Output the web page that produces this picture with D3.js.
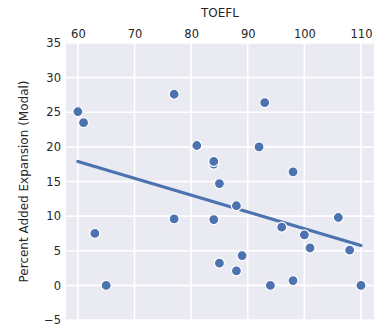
<!DOCTYPE html>
<html>
<head>
<meta charset="utf-8">
<script src="https://cdn.jsdelivr.net/npm/d3@7"></script>
<style>
  body { margin: 0; background: #fff; }
  text { font-family: "DejaVu Sans", sans-serif; fill: #262626; }
</style>
</head>
<body>
<div id="chart"></div>
<script>
// TOEFL score vs percent added expansion (modal)
const toefl = [60, 61, 63, 65, 77, 77, 81, 84, 84, 84, 85, 85, 88, 88, 89, 92, 93, 94, 96, 98, 98, 100, 101, 106, 108, 110];
const expansion = [25.1, 23.5, 7.5, 0, 27.6, 9.6, 20.2, 17.5, 17.9, 9.5, 14.7, 3.2, 11.5, 2.1, 4.3, 20.0, 26.4, 0, 8.4, 16.4, 0.7, 7.3, 5.4, 9.8, 5.1, 0];
const xTicks = [60, 70, 80, 90, 100, 110];
const yTicks = [-5, 0, 5, 10, 15, 20, 25, 30, 35];

const width = 377, height = 333;
const margin = { top: 43, right: 3, bottom: 13, left: 66 };

const svg = d3.select('#chart')
  .append('svg')
  .attr('width', width)
  .attr('height', height);

const x = d3.scaleLinear()
  .domain([57.9, 112.3])
  .range([margin.left, width - margin.right]);

const y = d3.scaleLinear()
  .domain([-5, 35])
  .range([height - margin.bottom, margin.top]);

// background
svg.append('rect')
  .attr('x', margin.left)
  .attr('y', margin.top)
  .attr('width', width - margin.left - margin.right)
  .attr('height', height - margin.top - margin.bottom)
  .attr('fill', '#eaeaf2');

// grid
svg.append('g')
  .selectAll('line')
  .data(xTicks)
  .enter()
  .append('line')
  .attr('x1', d => x(d)).attr('x2', d => x(d))
  .attr('y1', margin.top).attr('y2', height - margin.bottom)
  .attr('stroke', '#fff').attr('stroke-width', 1.6);

svg.append('g')
  .selectAll('line')
  .data(yTicks)
  .enter()
  .append('line')
  .attr('x1', margin.left).attr('x2', width - margin.right)
  .attr('y1', d => y(d)).attr('y2', d => y(d))
  .attr('stroke', '#fff').attr('stroke-width', 1.6);

// axes (top x, left y)
const xAxis = svg.append('g')
  .attr('transform', `translate(0,${margin.top})`)
  .call(d3.axisTop(x).tickValues(xTicks).tickSize(0).tickPadding(5));
const yAxis = svg.append('g')
  .attr('transform', `translate(${margin.left},0)`)
  .call(d3.axisLeft(y).tickValues(yTicks).tickSize(0).tickPadding(5)
    .tickFormat(d => d < 0 ? '\u2212' + Math.abs(d) : d));
[xAxis, yAxis].forEach(g => {
  g.select('.domain').remove();
  g.selectAll('text').style('font-size', '11.5px').style('font-family', '"DejaVu Sans", sans-serif').attr('fill', '#262626');
});

// axis labels
svg.append('text')
  .attr('x', (margin.left + width - margin.right) / 2)
  .attr('y', 17)
  .attr('text-anchor', 'middle')
  .style('font-size', '12px')
  .text('TOEFL');

svg.append('text')
  .attr('transform', `translate(28,${(margin.top + height - margin.bottom) / 2}) rotate(-90)`)
  .attr('text-anchor', 'middle')
  .style('font-size', '12px')
  .text('Percent Added Expansion (Modal)');

// least squares fit
const mx = d3.mean(toefl), my = d3.mean(expansion);
const slope = d3.sum(toefl, (v, i) => (v - mx) * (expansion[i] - my)) / d3.sum(toefl, v => (v - mx) ** 2);
const icpt = my - slope * mx;
const xr = d3.extent(toefl);

svg.append('line')
  .attr('x1', x(xr[0])).attr('y1', y(icpt + slope * xr[0]))
  .attr('x2', x(xr[1])).attr('y2', y(icpt + slope * xr[1]))
  .attr('stroke', '#4c72b0')
  .attr('stroke-width', 3.2)
  .attr('stroke-linecap', 'round');

// points
svg.append('g')
  .selectAll('circle')
  .data(toefl.map((v, i) => [v, expansion[i]]))
  .enter()
  .append('circle')
  .attr('cx', d => x(d[0]))
  .attr('cy', d => y(d[1]))
  .attr('r', 5)
  .attr('fill', '#4c72b0')
  .attr('stroke', '#fff')
  .attr('stroke-width', 1.2);
</script>
</body>
</html>
